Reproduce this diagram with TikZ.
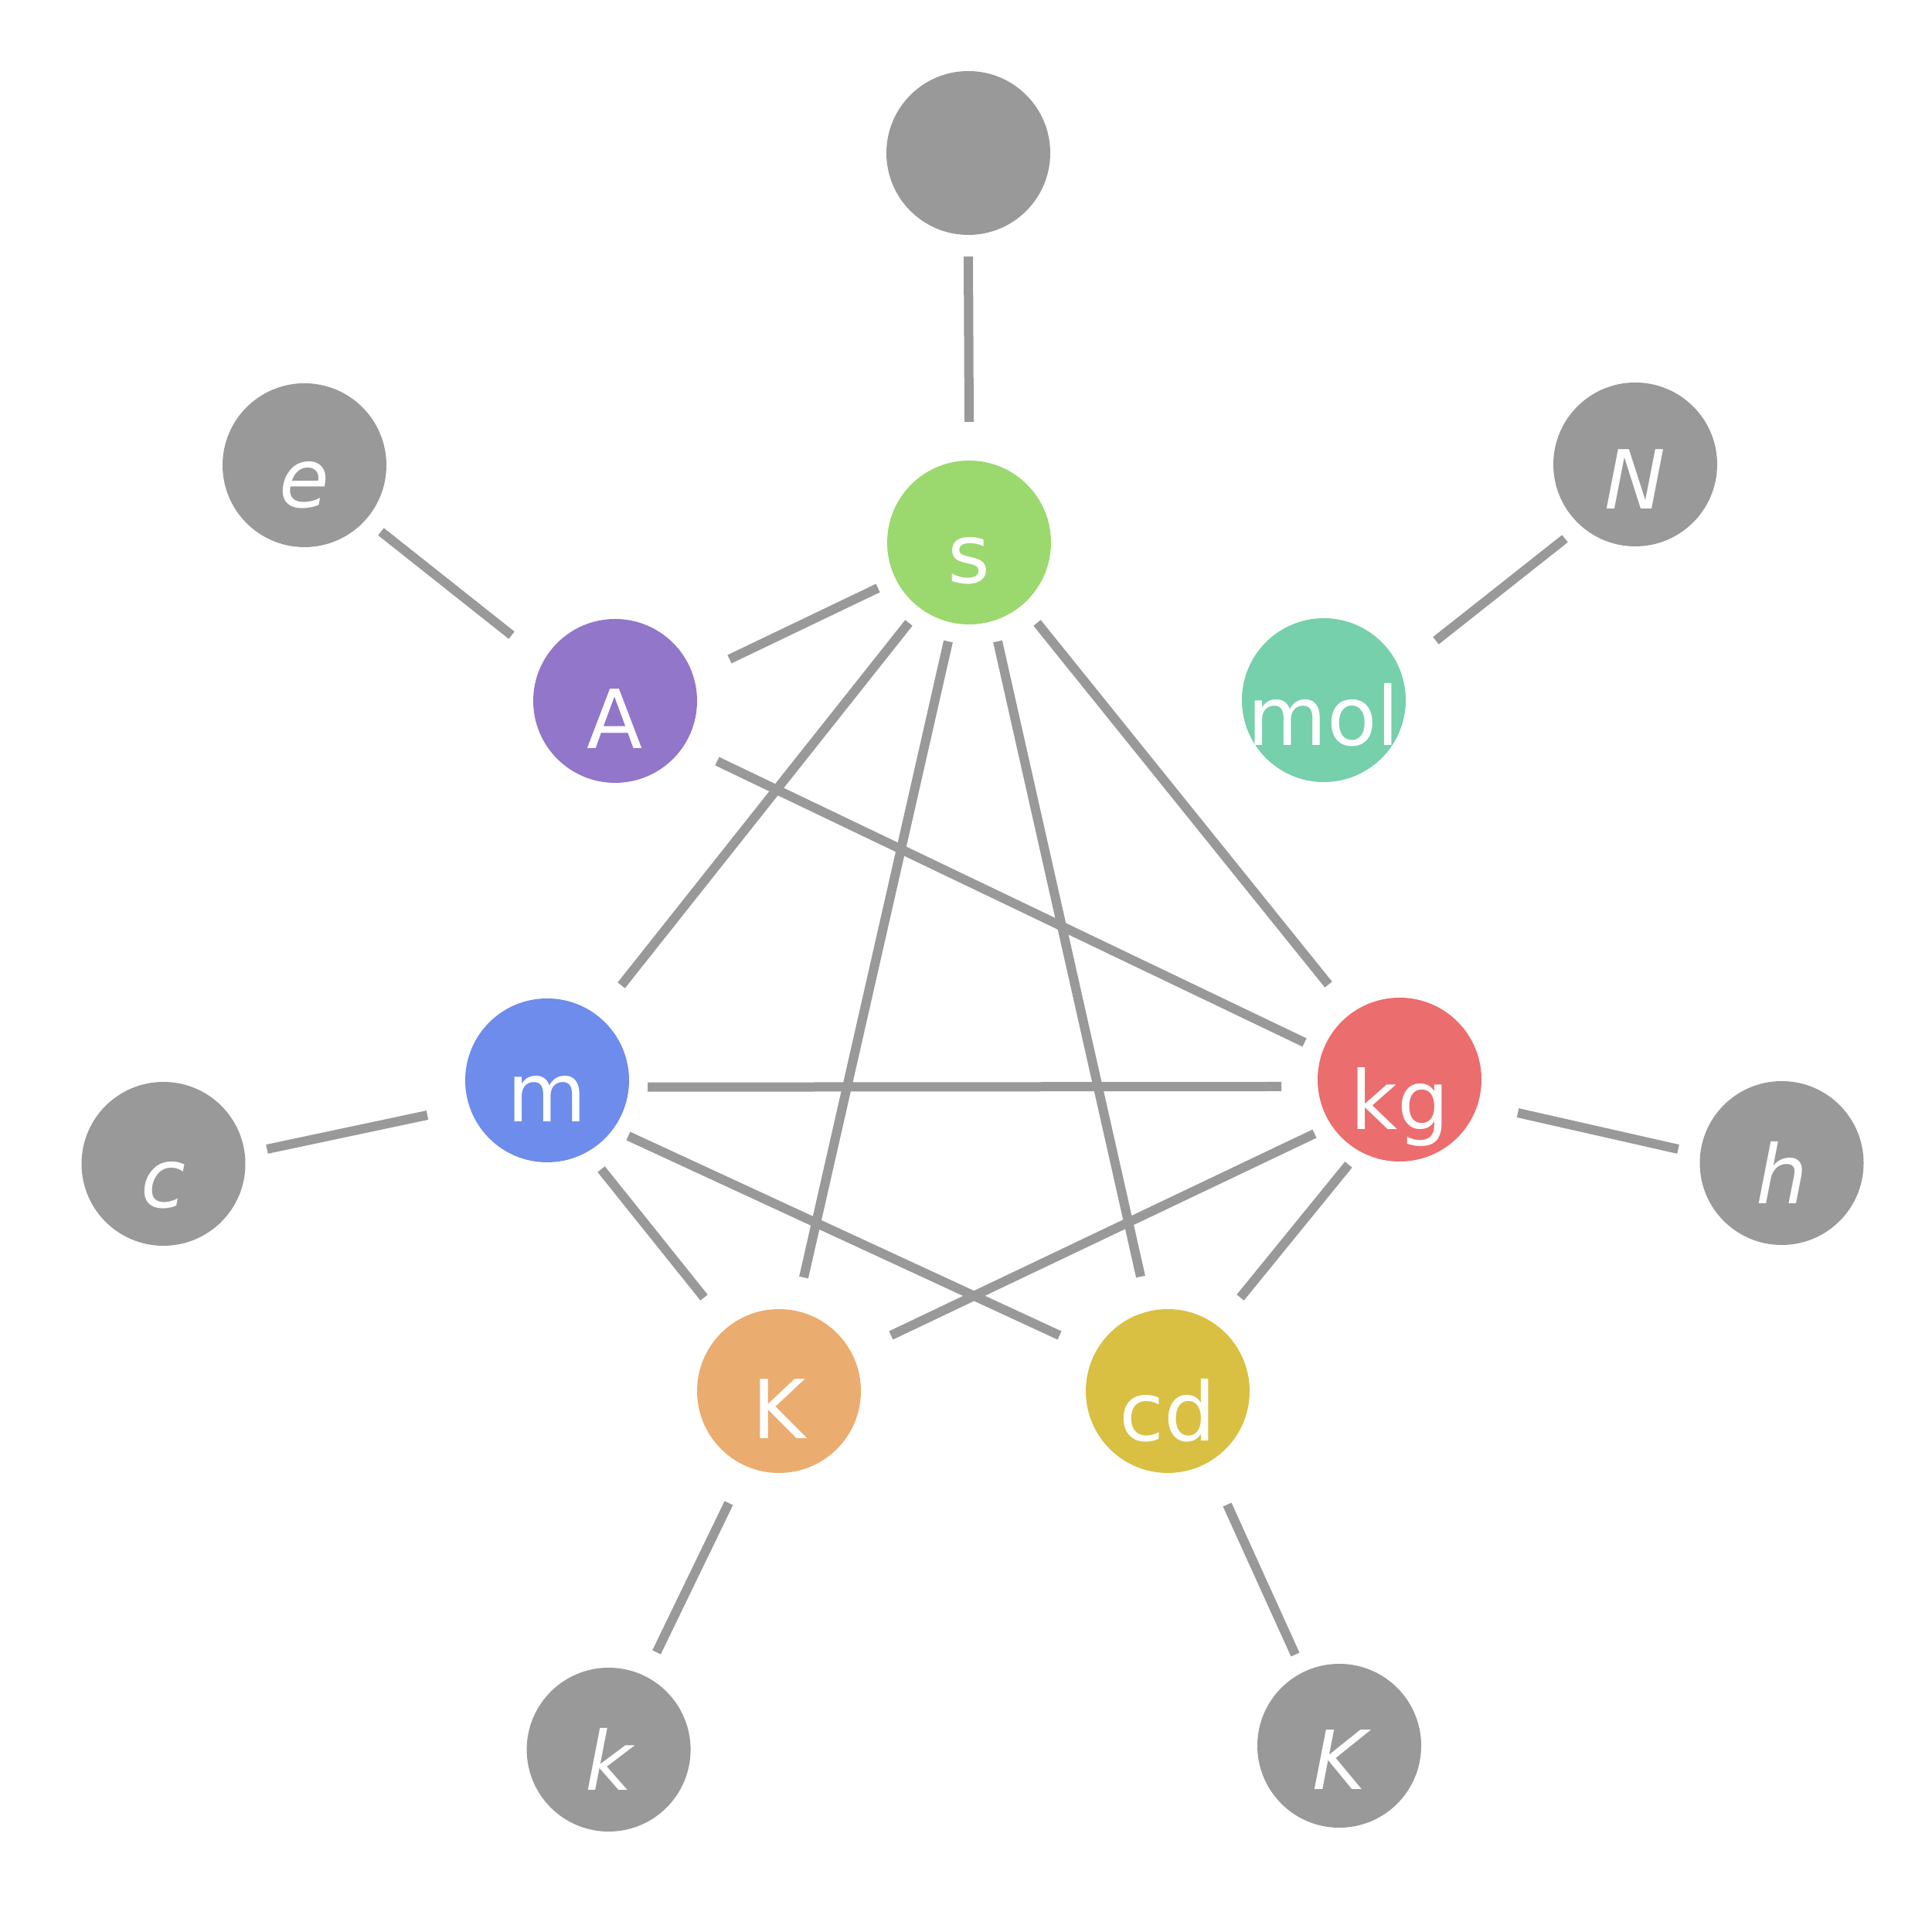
\documentclass[tikz,border=0pt]{standalone}
\usepackage{fontspec}
\setmainfont{DejaVu Sans}
\usetikzlibrary{calc}
\definecolor{edgegray}{HTML}{999999}
\definecolor{nodegray}{HTML}{999999}
\definecolor{cs}{HTML}{9BD86E}
\definecolor{cA}{HTML}{9176C9}
\definecolor{cmol}{HTML}{75D0AB}
\definecolor{cm}{HTML}{6D8CEB}
\definecolor{ckg}{HTML}{EB6D6D}
\definecolor{cK}{HTML}{EBAC6F}
\definecolor{ccd}{HTML}{D9C043}
\begin{document}
\begin{tikzpicture}[x=1cm,y=1cm,
  vert/.style={circle, minimum size=2.12cm, inner sep=0pt, draw=none, fill=#1},
  lbl/.style={anchor=base, text=white, font=\fontsize{30}{36}\selectfont, inner sep=0pt},
  ilbl/.style={lbl, font=\fontsize{30}{36}\selectfont\itshape},
  edge/.style={draw=edgegray, line width=0.12cm}]
\useasboundingbox (0,0) rectangle (25,25);
% nodes
\node[vert=nodegray] (top) at (12.53,23.02) {};
\node[vert=cs]       (s)   at (12.54,17.98) {};
\node[vert=nodegray] (e)   at (3.94,18.98) {};
\node[vert=nodegray] (N)   at (21.16,18.99) {};
\node[vert=cA]       (A)   at (7.96,15.93) {};
\node[vert=cmol]     (mol) at (17.13,15.94) {};
\node[vert=cm]       (m)   at (7.08,11.02) {};
\node[vert=ckg]      (kg)  at (18.11,11.03) {};
\node[vert=nodegray] (c)   at (2.115,9.94) {};
\node[vert=nodegray] (h)   at (23.055,9.95) {};
\node[vert=cK]       (K)   at (10.08,7.00) {};
\node[vert=ccd]      (cd)  at (15.11,7.00) {};
\node[vert=nodegray] (k)   at (7.876,2.36) {};
\node[vert=nodegray] (Ki)  at (17.33,2.41) {};
% labels
\node[lbl]  (sL)   at ([yshift=-0.53cm]s.center) {s};
\node[ilbl] (eL)   at ([yshift=-0.55cm]e.center) {e};
\node[ilbl] (NL)   at ([yshift=-0.58cm]N.center) {N};
\node[lbl]  (AL)   at ([yshift=-0.62cm]A.center) {A};
\node[lbl]  (molL) at ([yshift=-0.59cm]mol.center) {mol};
\node[lbl]  (mL)   at ([yshift=-0.54cm]m.center) {m};
\node[lbl]  (kgL)  at ([yshift=-0.65cm]kg.center) {kg};
\node[ilbl] (cL)   at ([yshift=-0.57cm]c.center) {c};
\node[ilbl] (hL)   at ([yshift=-0.53cm]h.center) {h};
\node[lbl]  (KL)   at ([yshift=-0.62cm]K.center) {K};
\node[lbl]  (cdL)  at ([yshift=-0.65cm]cd.center) {cd};
\node[ilbl] (kL)   at ([yshift=-0.53cm]k.center) {k};
\node[ilbl] (KiL)  at ([yshift=-0.57cm]Ki.center) {K};
% edges
\draw[edge] ($(top)+(0,-1.34)$) -- ($(s)+(0,1.56)$);
\draw[edge] ($(e)+(0.99,-0.86)$) -- ($(A)+(-1.34,0.85)$);
\draw[edge] ($(s)+(-1.18,-0.59)$) -- ($(A)+(1.48,0.54)$);
\draw[edge] ($(N)+(-0.91,-0.96)$) -- ($(mol)+(1.45,0.77)$);
\draw[edge] ($(s)+(-0.78,-1.04)$) -- ($(m)+(0.96,1.23)$);
\draw[edge] ($(s)+(-0.27,-1.28)$) -- ($(K)+(0.32,1.47)$);
\draw[edge] ($(s)+(0.37,-1.28)$) -- ($(cd)+(-0.35,1.48)$);
\draw[edge] ($(s)+(0.88,-1.04)$) -- ($(kg)+(-0.92,1.23)$);
\draw[edge] ($(kg)+(-1.23,0.48)$) -- ($(A)+(1.32,-0.78)$);
\draw[edge] ($(m)+(1.30,-0.087)$) -- ($(kg)+(-1.53,-0.09)$);
\draw[edge] ($(m)+(1.05,-0.72)$) -- ($(cd)+(-1.40,0.72)$);
\draw[edge] ($(kg)+(-1.10,-0.70)$) -- ($(K)+(1.45,0.72)$);
\draw[edge] ($(c)+(1.34,0.19)$) -- ($(m)+(-1.55,-0.45)$);
\draw[edge] ($(h)+(-1.34,0.18)$) -- ($(kg)+(1.53,-0.43)$);
\draw[edge] ($(m)+(0.70,-1.15)$) -- ($(K)+(-0.97,1.21)$);
\draw[edge] ($(kg)+(-0.66,-1.10)$) -- ($(cd)+(0.94,1.21)$);
\draw[edge] ($(k)+(0.62,1.26)$) -- ($(K)+(-0.65,-1.45)$);
\draw[edge] ($(Ki)+(-0.57,1.18)$) -- ($(cd)+(0.77,-1.47)$);
\end{tikzpicture}
\end{document}
